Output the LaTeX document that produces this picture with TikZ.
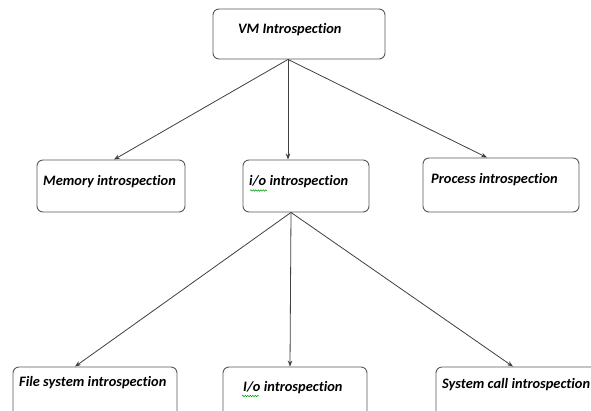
\documentclass[tikz,border=0pt]{standalone}
\usepackage{fontspec}
\setmainfont{Carlito}[Ligatures=NoCommon]
\usetikzlibrary{arrows.meta,decorations.pathmorphing}
\begin{document}
\begin{tikzpicture}[x=1pt,y=-1pt,
  box/.style={draw=black!65, line width=0.9pt, rounded corners=6pt, inner sep=0pt, fill=white},
  lbl/.style={anchor=base west, inner sep=0pt, font=\fontsize{14.4}{17}\selectfont\bfseries\itshape},
  link/.style={draw=black!75, line width=0.8pt, -{Stealth[length=6pt,width=4.5pt]}},
  squiggle/.style={draw=green!60!black, line width=0.5pt, decorate,
    decoration={snake, amplitude=0.7pt, segment length=2.5pt}}]
\useasboundingbox (0,0) rectangle (591,410);
\fill[white] (0,0) rectangle (591,410);

% boxes
\node[box, minimum width=172pt, minimum height=50pt] (vm)   at (299,34)  {};
\node[box, minimum width=148pt, minimum height=52pt] (mem)  at (111,186) {};
\node[box, minimum width=126pt, minimum height=52pt] (io)   at (306,186) {};
\node[box, minimum width=156pt, minimum height=54pt] (proc) at (501,185) {};
\node[box, minimum width=164pt, minimum height=64pt] (fs)   at (95,399)  {};
\node[box, minimum width=144pt, minimum height=64pt] (io2)  at (295,399) {};
\node[box, minimum width=164pt, minimum height=64pt] (sys)  at (518,399) {};

% labels
\node[lbl] (tvm)   at (238,33)  {VM Introspection};
\node[lbl] (tmem)  at (43,185)  {Memory introspection};
\node[lbl] (tio)   at (249,185) {i/o introspection};
\node[lbl] (tproc) at (431,183) {Process introspection};
\node[lbl] (tfs)   at (19,386)  {File system introspection};
\node[lbl] (tio2)  at (243,391) {I/o introspection};
\node[lbl] (tsys)  at (442,388) {System call introspection};

% spell-check marks
\draw[squiggle] (250,190.5) -- (267,190.5);
\draw[squiggle] (242,396) -- (259,396);

% connectors
\coordinate (vmout) at ([xshift=-11pt]vm.south);
\coordinate (ioout) at ([xshift=-15pt]io.south);
\draw[link] (vmout) -- ([xshift=3pt]mem.north);
\draw[link] (vmout) -- ([xshift=-18pt]io.north);
\draw[link] (vmout) -- ([xshift=-14pt]proc.north);
\draw[link] (ioout) -- ([xshift=-20pt]fs.north);
\draw[link] (ioout) -- ([xshift=-5pt]io2.north);
\draw[link] (ioout) -- ([xshift=-5pt]sys.north);
\end{tikzpicture}
\end{document}
